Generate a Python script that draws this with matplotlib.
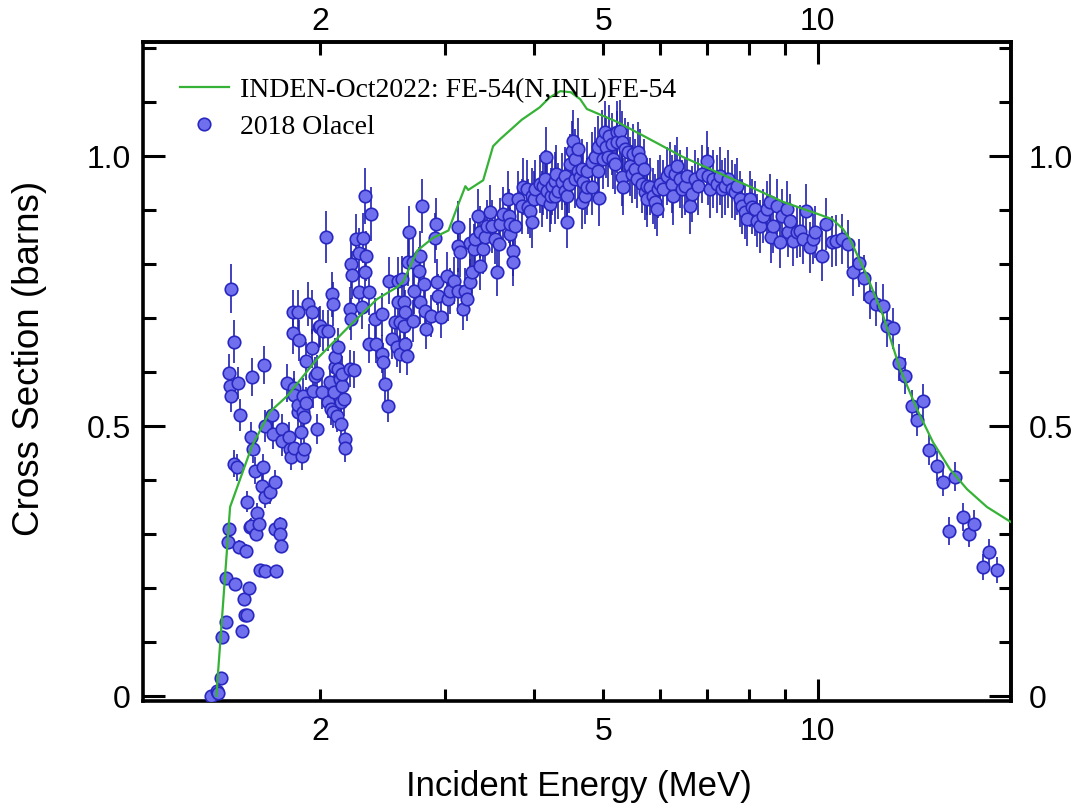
import matplotlib
matplotlib.use('Agg')
import matplotlib.pyplot as plt
import numpy as np
from matplotlib.ticker import FixedLocator, FixedFormatter

plt.rcParams['font.family'] = ['Liberation Sans', 'DejaVu Sans']

# ---- 2018 Olacel data (MeV, barns) ----
e_a = [1.406, 1.433, 1.44, 1.452, 1.457, 1.476, 1.476, 1.485, 1.49, 1.49, 1.495, 1.50, 1.50, 1.515, 1.515,
       1.52, 1.53, 1.535, 1.54, 1.544, 1.555, 1.565, 1.57, 1.575, 1.58, 1.58, 1.59, 1.595, 1.60, 1.605,
       1.60, 1.61, 1.62, 1.625, 1.63, 1.64, 1.645, 1.66, 1.665, 1.67, 1.675, 1.675, 1.675, 1.70, 1.71,
       1.72, 1.73, 1.73, 1.735, 1.757, 1.757, 1.763, 1.77, 1.77, 1.80, 1.81, 1.815, 1.82, 1.83, 1.835,
       1.84, 1.84, 1.84, 1.86, 1.865, 1.865, 1.87, 1.88, 1.885, 1.89, 1.89, 1.90, 1.90, 1.91, 1.91,
       1.925, 1.95, 1.95, 1.955, 1.97, 1.98, 1.98, 1.99]
xs_a = [0.000, 0.010, 0.006, 0.033, 0.110, 0.137, 0.218, 0.285, 0.310, 0.598, 0.574, 0.754, 0.556, 0.656, 0.430,
        0.207, 0.424, 0.580, 0.276, 0.520, 0.120, 0.180, 0.150, 0.269, 0.150, 0.360, 0.200, 0.313, 0.480, 0.590,
        0.315, 0.457, 0.417, 0.300, 0.339, 0.318, 0.233, 0.389, 0.424, 0.613, 0.231, 0.369, 0.500, 0.378, 0.520,
        0.485, 0.396, 0.309, 0.231, 0.318, 0.300, 0.278, 0.494, 0.472, 0.580, 0.480, 0.457, 0.443, 0.711, 0.672,
        0.570, 0.460, 0.557, 0.526, 0.539, 0.711, 0.659, 0.489, 0.444, 0.526, 0.556, 0.457, 0.517, 0.543, 0.620,
        0.726, 0.644, 0.711, 0.565, 0.593, 0.598, 0.494, 0.683]
dxs_a = [0.004, 0.005, 0.004, 0.006, 0.008, 0.008, 0.010, 0.012, 0.012, 0.035, 0.030, 0.045, 0.030, 0.040, 0.025,
         0.010, 0.025, 0.030, 0.012, 0.030, 0.007, 0.009, 0.008, 0.012, 0.008, 0.020, 0.010, 0.014, 0.028, 0.035,
         0.014, 0.025, 0.025, 0.013, 0.018, 0.014, 0.010, 0.022, 0.025, 0.035, 0.010, 0.020, 0.030, 0.022, 0.030,
         0.028, 0.022, 0.014, 0.010, 0.014, 0.013, 0.013, 0.028, 0.028, 0.035, 0.028, 0.025, 0.025, 0.040, 0.038,
         0.032, 0.026, 0.032, 0.030, 0.030, 0.040, 0.038, 0.028, 0.025, 0.030, 0.032, 0.026, 0.030, 0.030, 0.035,
         0.040, 0.036, 0.040, 0.032, 0.034, 0.034, 0.028, 0.038]

e_b = [2.00, 2.015, 2.02, 2.04, 2.05, 2.05, 2.065, 2.07, 2.08, 2.085, 2.085, 2.09, 2.10, 2.10, 2.11,
       2.12, 2.12, 2.13, 2.14, 2.14, 2.145, 2.15, 2.16, 2.17, 2.17, 2.20, 2.20, 2.21, 2.21, 2.215,
       2.23, 2.25, 2.27, 2.27, 2.29, 2.30, 2.31, 2.31, 2.32, 2.34, 2.345, 2.36, 2.39, 2.40, 2.44,
       2.44, 2.45, 2.47, 2.49, 2.50, 2.52, 2.55, 2.565, 2.57, 2.57, 2.59, 2.59, 2.61, 2.62, 2.62,
       2.63, 2.63, 2.65, 2.66, 2.67, 2.70, 2.70, 2.71, 2.75, 2.76, 2.76, 2.78, 2.80, 2.81, 2.82,
       2.86, 2.90, 2.91, 2.92, 2.93, 2.96]
xs_b = [0.685, 0.563, 0.676, 0.850, 0.676, 0.544, 0.581, 0.531, 0.744, 0.726, 0.526, 0.563, 0.609, 0.628, 0.519,
        0.646, 0.606, 0.587, 0.544, 0.504, 0.574, 0.596, 0.550, 0.476, 0.459, 0.717, 0.606, 0.698, 0.800, 0.780,
        0.604, 0.846, 0.820, 0.748, 0.720, 0.848, 0.926, 0.785, 0.815, 0.748, 0.652, 0.893, 0.698, 0.652, 0.707,
        0.633, 0.618, 0.578, 0.537, 0.769, 0.661, 0.693, 0.646, 0.769, 0.730, 0.633, 0.693, 0.772, 0.730, 0.685,
        0.711, 0.652, 0.630, 0.804, 0.859, 0.803, 0.694, 0.750, 0.787, 0.815, 0.730, 0.907, 0.763, 0.713, 0.680,
        0.704, 0.848, 0.874, 0.767, 0.741, 0.702]
dxs_b = [0.038, 0.032, 0.038, 0.048, 0.038, 0.030, 0.033, 0.030, 0.042, 0.040, 0.030, 0.032, 0.034, 0.035, 0.030,
         0.036, 0.034, 0.033, 0.030, 0.028, 0.032, 0.034, 0.031, 0.026, 0.026, 0.040, 0.034, 0.039, 0.045, 0.044,
         0.034, 0.047, 0.046, 0.042, 0.040, 0.047, 0.052, 0.044, 0.046, 0.042, 0.036, 0.050, 0.039, 0.036, 0.040,
         0.035, 0.035, 0.032, 0.030, 0.043, 0.037, 0.039, 0.036, 0.043, 0.041, 0.035, 0.039, 0.043, 0.041, 0.038,
         0.040, 0.036, 0.035, 0.045, 0.048, 0.045, 0.039, 0.042, 0.044, 0.046, 0.041, 0.050, 0.043, 0.040, 0.038,
         0.039, 0.047, 0.049, 0.043, 0.041, 0.039]

e_c = [3.02, 3.03, 3.04, 3.08, 3.12, 3.12, 3.12, 3.14, 3.18, 3.20, 3.22, 3.25, 3.25, 3.27, 3.29,
       3.30, 3.33, 3.36, 3.36, 3.39, 3.41, 3.43, 3.47, 3.49, 3.52, 3.55, 3.57, 3.58, 3.62, 3.67,
       3.68, 3.70, 3.70, 3.73, 3.73, 3.76, 3.79, 3.84, 3.86, 3.91, 3.92, 3.95, 3.97, 3.97]
xs_c = [0.778, 0.735, 0.750, 0.769, 0.750, 0.868, 0.833, 0.822, 0.717, 0.750, 0.735, 0.767, 0.839, 0.785, 0.828,
        0.846, 0.889, 0.859, 0.796, 0.828, 0.850, 0.870, 0.896, 0.870, 0.846, 0.785, 0.837, 0.874, 0.893, 0.920,
        0.889, 0.856, 0.874, 0.824, 0.804, 0.870, 0.920, 0.907, 0.943, 0.939, 0.906, 0.898, 0.878, 0.926]
dxs_c = [0.044, 0.041, 0.042, 0.043, 0.042, 0.049, 0.047, 0.046, 0.040, 0.042, 0.041, 0.043, 0.047, 0.044, 0.046,
         0.047, 0.050, 0.048, 0.045, 0.046, 0.048, 0.049, 0.050, 0.049, 0.047, 0.044, 0.047, 0.049, 0.050, 0.052,
         0.050, 0.048, 0.049, 0.046, 0.045, 0.049, 0.052, 0.051, 0.053, 0.053, 0.051, 0.050, 0.049, 0.052]

e_d = [4.00, 4.01, 4.07, 4.10, 4.11, 4.14, 4.16, 4.17, 4.21, 4.22, 4.24, 4.27, 4.27, 4.29, 4.32,
       4.37, 4.42, 4.42, 4.45, 4.45, 4.47, 4.49, 4.52, 4.53, 4.56, 4.56, 4.61, 4.61, 4.64, 4.67,
       4.67, 4.68, 4.71, 4.74, 4.75, 4.82, 4.82, 4.87, 4.91, 4.92, 4.93, 4.98]
xs_d = [0.920, 0.939, 0.948, 0.920, 0.944, 0.957, 0.998, 0.935, 0.911, 0.926, 0.944, 0.954, 0.926, 0.967, 0.935,
        0.952, 0.963, 0.935, 0.878, 0.926, 0.948, 0.985, 1.009, 1.028, 0.994, 0.957, 1.013, 0.972, 0.961, 0.976,
        0.915, 0.952, 0.926, 0.972, 0.943, 0.989, 0.943, 0.998, 0.972, 1.017, 0.922, 1.028]
dxs_d = [0.052, 0.053, 0.053, 0.052, 0.053, 0.054, 0.056, 0.052, 0.051, 0.052, 0.053, 0.053, 0.052, 0.054, 0.052,
         0.053, 0.054, 0.052, 0.049, 0.052, 0.053, 0.055, 0.056, 0.057, 0.056, 0.054, 0.057, 0.054, 0.054, 0.055,
         0.051, 0.053, 0.052, 0.054, 0.053, 0.055, 0.053, 0.056, 0.054, 0.057, 0.052, 0.057]

e_e = [5.00, 5.03, 5.05, 5.08, 5.10, 5.14, 5.16, 5.19, 5.22, 5.23, 5.28, 5.31, 5.31, 5.33, 5.36,
       5.41, 5.45, 5.48, 5.50, 5.54, 5.57, 5.59, 5.63, 5.66, 5.70, 5.72, 5.75, 5.76, 5.81, 5.87,
       5.91, 5.95, 5.97, 6.00, 6.06, 6.14, 6.20, 6.24, 6.26, 6.30, 6.34, 6.41, 6.45, 6.51, 6.55,
       6.62, 6.66, 6.72, 6.79, 6.88, 6.99]
xs_e = [0.994, 1.044, 1.017, 0.998, 1.037, 1.022, 0.994, 0.985, 1.044, 1.026, 1.046, 0.961, 1.026, 0.943, 1.013,
        1.007, 0.981, 0.967, 1.004, 0.976, 0.957, 1.007, 0.994, 0.948, 0.976, 0.933, 0.944, 0.920, 0.943, 0.926,
        0.915, 0.902, 0.939, 0.948, 0.939, 0.963, 0.972, 0.948, 0.925, 0.967, 0.981, 0.957, 0.939, 0.944, 0.963,
        0.907, 0.930, 0.957, 0.944, 0.967, 0.991]
dxs_e = [0.056, 0.058, 0.057, 0.056, 0.058, 0.057, 0.056, 0.055, 0.058, 0.057, 0.058, 0.054, 0.057, 0.053, 0.057,
         0.056, 0.055, 0.054, 0.056, 0.055, 0.054, 0.056, 0.056, 0.053, 0.055, 0.052, 0.053, 0.052, 0.053, 0.052,
         0.051, 0.051, 0.053, 0.053, 0.053, 0.054, 0.054, 0.053, 0.052, 0.054, 0.055, 0.054, 0.053, 0.053, 0.054,
         0.051, 0.052, 0.054, 0.053, 0.054, 0.055]

e_f = [7.01, 7.06, 7.13, 7.22, 7.29, 7.34, 7.41, 7.48, 7.58, 7.65, 7.70, 7.78, 7.83, 7.90, 7.96,
       8.03, 8.09, 8.17, 8.22, 8.30, 8.38, 8.49, 8.57, 8.60, 8.65, 8.77, 8.85, 8.91, 9.06, 9.10,
       9.14, 9.24, 9.36, 9.45, 9.54, 9.63, 9.76, 9.85, 9.92, 10.15, 10.28, 10.48, 10.62, 10.82]
xs_f = [0.963, 0.939, 0.957, 0.948, 0.963, 0.939, 0.944, 0.957, 0.939, 0.933, 0.944, 0.920, 0.907, 0.896, 0.883,
        0.920, 0.906, 0.902, 0.880, 0.870, 0.889, 0.902, 0.915, 0.850, 0.870, 0.907, 0.840, 0.889, 0.902, 0.860,
        0.880, 0.843, 0.859, 0.861, 0.846, 0.898, 0.831, 0.846, 0.859, 0.815, 0.874, 0.841, 0.843, 0.846]
dxs_f = [0.054, 0.053, 0.054, 0.053, 0.054, 0.053, 0.053, 0.054, 0.053, 0.052, 0.053, 0.052, 0.051, 0.050, 0.049,
         0.052, 0.051, 0.051, 0.049, 0.049, 0.050, 0.051, 0.051, 0.048, 0.049, 0.051, 0.047, 0.050, 0.051, 0.048,
         0.049, 0.047, 0.048, 0.048, 0.047, 0.050, 0.047, 0.047, 0.048, 0.046, 0.049, 0.047, 0.047, 0.047]

e_g = [11.03, 11.20, 11.43, 11.62, 11.85, 12.08, 12.35, 12.51, 12.76, 13.01, 13.26, 13.57, 13.79, 14.07, 14.33,
       14.71, 15.00, 15.30, 15.60, 16.00, 16.30, 16.60, 17.07, 17.40, 17.86]
xs_g = [0.837, 0.785, 0.802, 0.774, 0.739, 0.726, 0.722, 0.685, 0.681, 0.617, 0.593, 0.537, 0.511, 0.546, 0.456,
        0.426, 0.396, 0.306, 0.406, 0.331, 0.300, 0.319, 0.239, 0.267, 0.233]
dxs_g = [0.045, 0.044, 0.045, 0.043, 0.041, 0.041, 0.040, 0.038, 0.038, 0.034, 0.033, 0.030, 0.029, 0.031, 0.028,
         0.027, 0.026, 0.026, 0.027, 0.026, 0.025, 0.025, 0.024, 0.024, 0.024]

# ---- evaluation curve ----
eval_e = [1.43, 1.495, 1.605, 1.70, 1.80, 1.98, 2.18, 2.405, 2.566, 2.616, 2.74, 2.88, 3.03, 3.11, 3.20,
          3.23, 3.39, 3.50, 3.58, 3.84, 4.07, 4.20, 4.35, 4.50, 4.64, 4.74, 5.23, 5.81, 6.47, 7.22,
          8.04, 8.94, 9.98, 10.48, 10.85, 11.10, 11.73, 12.36, 13.05, 13.79, 14.52, 15.34, 16.21, 17.29, 18.69]
eval_xs = [0.0, 0.35, 0.463, 0.526, 0.556, 0.624, 0.68, 0.735, 0.757, 0.767, 0.825, 0.848, 0.862, 0.902, 0.944,
           0.937, 0.955, 1.018, 1.031, 1.067, 1.09, 1.108, 1.12, 1.118, 1.105, 1.087, 1.063, 1.031, 0.998, 0.97,
           0.943, 0.915, 0.893, 0.883, 0.865, 0.846, 0.778, 0.704, 0.606, 0.531, 0.47, 0.42, 0.383, 0.35, 0.322]

x_major = [10]
x_minor = [2, 3, 4, 5, 6, 7, 8, 9]
x_minor_labels = ['2', '', '', '5', '', '', '', '']
y_major = [0, 0.5, 1.0]
y_major_labels = ['0', '0.5', '1.0']
y_minor = [0.1, 0.2, 0.3, 0.4, 0.6, 0.7, 0.8, 0.9, 1.1, 1.2]

energy = np.concatenate([e_a, e_b, e_c, e_d, e_e, e_f, e_g])
xs = np.concatenate([xs_a, xs_b, xs_c, xs_d, xs_e, xs_f, xs_g])
dxs = np.concatenate([dxs_a, dxs_b, dxs_c, dxs_d, dxs_e, dxs_f, dxs_g])

W, H = 1076, 812
fig = plt.figure(figsize=(W / 100, H / 100), dpi=100)
ax = fig.add_axes([143 / W, 1 - 702 / H, (1011 - 143) / W, (702 - 43) / H])
ax.set_xscale('log')
ax.set_xlim(1.128, 18.69)
ax.set_ylim(-0.0093, 1.211)

ax.errorbar(energy, xs, yerr=dxs, fmt='none', ecolor='#2020b0', elinewidth=1.2, capsize=0, zorder=2)
pts, = ax.plot(energy, xs, 'o', ms=9, mfc='#7070ee', mec='#2828c0', mew=1.2, zorder=3,
               label='2018 Olacel')
curve, = ax.plot(eval_e, eval_xs, color='#36b236', lw=1.6, zorder=4,
                 label='INDEN-Oct2022: FE-54(N,INL)FE-54')

for s in ax.spines.values():
    s.set_linewidth(2.6)


def style_x(axis_obj, pad):
    axis_obj.xaxis.set_major_locator(FixedLocator(x_major))
    axis_obj.xaxis.set_major_formatter(FixedFormatter([str(v) for v in x_major]))
    axis_obj.xaxis.set_minor_locator(FixedLocator(x_minor))
    axis_obj.xaxis.set_minor_formatter(FixedFormatter(x_minor_labels))
    axis_obj.tick_params(axis='x', which='major', direction='in', length=15.8, width=2.2,
                         labelsize=23, pad=pad)
    axis_obj.tick_params(axis='x', which='minor', direction='in', length=9, width=2.2,
                         labelsize=23, pad=pad)


def style_y(axis_obj, pad):
    axis_obj.yaxis.set_major_locator(FixedLocator(y_major))
    axis_obj.yaxis.set_major_formatter(FixedFormatter(y_major_labels))
    axis_obj.yaxis.set_minor_locator(FixedLocator(y_minor))
    axis_obj.tick_params(axis='y', which='major', direction='in', length=15.8, width=2.2,
                         labelsize=23, pad=pad)
    axis_obj.tick_params(axis='y', which='minor', direction='in', length=9, width=2.2, pad=pad)


style_x(ax, 11)
style_y(ax, 9)

top = ax.secondary_xaxis('top')
style_x(top, 4)
top.spines['top'].set_linewidth(2.6)

right = ax.secondary_yaxis('right')
style_y(right, 13)
right.spines['right'].set_linewidth(2.6)

fig.text(579 / W, 1 - 787 / H, 'Incident Energy (MeV)', ha='center', va='center', fontsize=25)
fig.text(30 / W, 1 - 358 / H, 'Cross Section (barns)', ha='center', va='center', fontsize=26.5,
         rotation=90)

ax.legend(handles=[curve, pts], loc='upper left', bbox_to_anchor=((180 - 143) / 868, 0.947),
          frameon=False, borderpad=0, borderaxespad=0, handlelength=1.75, handletextpad=0.42,
          labelspacing=0.42, numpoints=1, prop={'family': 'Liberation Serif', 'size': 20})

fig.savefig('out.png', dpi=100, facecolor='white')
